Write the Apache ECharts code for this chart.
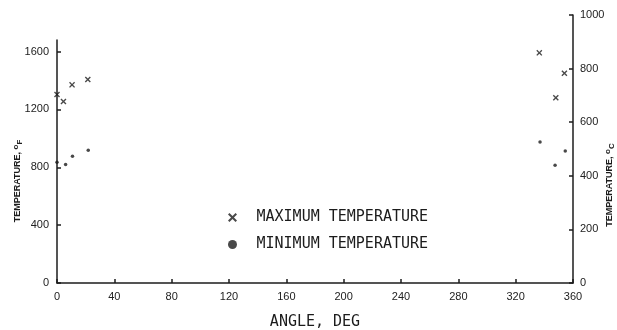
<!DOCTYPE html>
<html>
<head>
<meta charset="utf-8">
<script src="https://cdn.jsdelivr.net/npm/echarts@6/dist/echarts.min.js"></script>
<style>
  html, body { margin: 0; padding: 0; background: #fff; }
  #chart { width: 617px; height: 330px; }
</style>
</head>
<body>
<div id="chart"></div>
<script>
// Surface temperature around the circumference, degrees F (left) and C (right)
const maxAngle = [0, 4.5, 10.5, 21.5, 336.5, 348, 354];
const maxTempF = [1303, 1255, 1370, 1407, 1591, 1281, 1450];
const minAngle = [0, 6, 10.8, 21.8, 337, 347.5, 354.6];
const minTempF = [835, 819, 876, 917, 974, 814, 912];

const angleTicks = [0, 40, 80, 120, 160, 200, 240, 280, 320, 360];
const tempFTicks = [0, 400, 800, 1200, 1600];
const tempCTicks = [0, 200, 400, 600, 800, 1000];

const seriesNames = ['MAXIMUM TEMPERATURE', 'MINIMUM TEMPERATURE'];

const INK = '#1c1c1c';
const crossPath = 'path://M0,1.6L1.6,0L5,3.4L8.4,0L10,1.6L6.6,5L10,8.4L8.4,10L5,6.6L1.6,10L0,8.4L3.4,5Z';

const pairs = (xs, ys) => xs.map((x, i) => [x, ys[i]]);
const plain = v => String(v);

const tickLabel = { color: '#222', fontFamily: 'Liberation Sans', fontSize: 11, formatter: plain };
const axisLine = { show: true, onZero: false, lineStyle: { color: INK, width: 1.5 } };
const axisTick = { show: true, inside: true, length: 4, lineStyle: { color: INK, width: 1.5 } };

const chart = echarts.init(document.getElementById('chart'), null, { renderer: 'canvas' });

chart.setOption({
  backgroundColor: '#fff',
  animation: false,
  grid: [
    { left: 57, right: 44, top: 40, bottom: 47, outerBoundsMode: 'none', containLabel: false },
    { left: 57, right: 44, top: 15, bottom: 47, outerBoundsMode: 'none', containLabel: false }
  ],
  xAxis: [
    {
      gridIndex: 0, type: 'value', min: 0, max: 360, interval: 40,
      name: 'ANGLE, DEG', nameLocation: 'middle', nameGap: 32,
      nameTextStyle: { color: INK, fontFamily: 'DejaVu Sans Mono', fontSize: 15 },
      axisLine: axisLine,
      axisTick: Object.assign({ customValues: angleTicks }, axisTick),
      axisLabel: Object.assign({ margin: 8, customValues: angleTicks }, tickLabel),
      splitLine: { show: false }
    },
    {
      gridIndex: 1, type: 'value', min: 0, max: 360, show: false
    }
  ],
  yAxis: [
    {
      gridIndex: 0, type: 'value', min: 0, max: 1680, position: 'left',
      axisLine: axisLine,
      axisTick: Object.assign({ customValues: tempFTicks }, axisTick),
      axisLabel: Object.assign({ margin: 8, customValues: tempFTicks }, tickLabel),
      splitLine: { show: false }
    },
    {
      gridIndex: 1, type: 'value', min: 0, max: 1000, position: 'right',
      axisLine: axisLine,
      axisTick: Object.assign({ customValues: tempCTicks }, axisTick),
      axisLabel: Object.assign({ margin: 7, customValues: tempCTicks }, tickLabel),
      splitLine: { show: false }
    }
  ],
  legend: {
    orient: 'vertical',
    left: 228, top: 210, padding: 0,
    itemWidth: 38, itemHeight: 9, itemGap: 12,
    selectedMode: false,
    textStyle: { color: INK, fontFamily: 'DejaVu Sans Mono', fontSize: 15, lineHeight: 15 },
    data: [
      { name: seriesNames[0], icon: crossPath },
      { name: seriesNames[1], icon: 'circle' }
    ]
  },
  graphic: [
    {
      type: 'text', x: 18, y: 181, rotation: Math.PI / 2,
      style: {
        text: 'TEMPERATURE, {sup|o}{sub|F}',
        fill: INK, font: 'bold 9px "Liberation Sans"',
        align: 'center', verticalAlign: 'middle',
        rich: {
          sup: { fontSize: 8, fontWeight: 'bold', fontFamily: 'Liberation Sans', fill: INK, padding: [0, 0, 5, 0] },
          sub: { fontSize: 8, fontWeight: 'bold', fontFamily: 'Liberation Sans', fill: INK, padding: [3, 0, 0, 0] }
        }
      }
    },
    {
      type: 'text', x: 610, y: 185, rotation: Math.PI / 2,
      style: {
        text: 'TEMPERATURE, {sup|o}{sub|C}',
        fill: INK, font: 'bold 9px "Liberation Sans"',
        align: 'center', verticalAlign: 'middle',
        rich: {
          sup: { fontSize: 8, fontWeight: 'bold', fontFamily: 'Liberation Sans', fill: INK, padding: [0, 0, 5, 0] },
          sub: { fontSize: 8, fontWeight: 'bold', fontFamily: 'Liberation Sans', fill: INK, padding: [3, 0, 0, 0] }
        }
      }
    }
  ],
  series: [
    {
      name: seriesNames[0], type: 'scatter', xAxisIndex: 0, yAxisIndex: 0,
      symbol: crossPath, symbolSize: 6,
      itemStyle: { color: INK },
      data: pairs(maxAngle, maxTempF)
    },
    {
      name: seriesNames[1], type: 'scatter', xAxisIndex: 0, yAxisIndex: 0,
      symbol: 'circle', symbolSize: 3.5,
      itemStyle: { color: INK },
      data: pairs(minAngle, minTempF)
    }
  ]
});
</script>
</body>
</html>
